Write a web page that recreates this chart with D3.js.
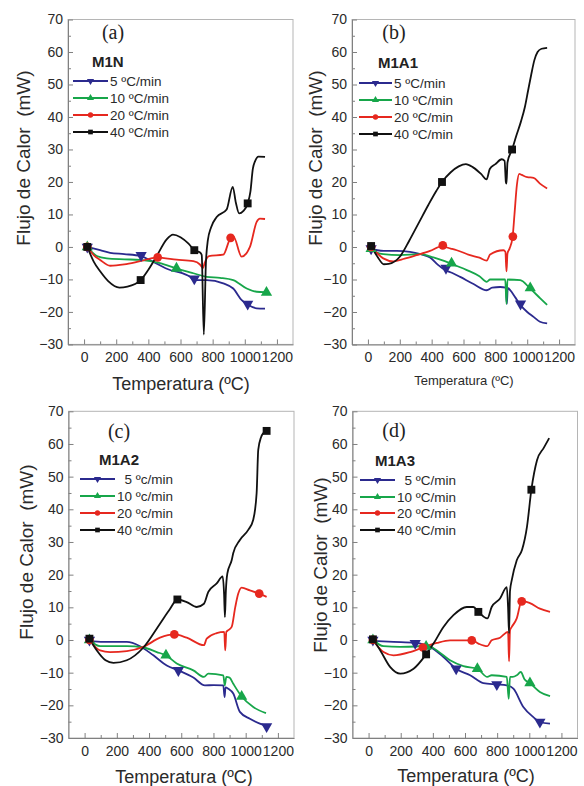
<!DOCTYPE html>
<html>
<head>
<meta charset="utf-8">
<title>Flujo de Calor vs Temperatura</title>
<style>
  body { margin: 0; background: #fff; }
  svg text { font-family: "Liberation Sans", Arial, sans-serif; white-space: pre; }
</style>
</head>
<body>
<div id="chart"></div>
<script src="https://cdn.jsdelivr.net/npm/d3@7"></script>
<script>
// ---- chart data ----
const panelLetters = ["(a)", "(b)", "(c)", "(d)"];
const sampleNames = ["M1N", "M1A1", "M1A2", "M1A3"];
const legendA = ["5 ºC/min", "10 ºC/min", "20 ºC/min", "40 ºC/min"];
const legendB = ["5 ºC/min", "10 ºC/min", "20 ºC/min", "40 ºC/min"];
const legendC = ["  5 ºc/min", "10 ºc/min", "20 ºc/min", "40 ºc/min"];
const legendD = ["  5 ºC/min", "10 ºC/min", "20 ºC/min", "40 ºC/min"];
const xTicks = [0, 200, 400, 600, 800, 1000, 1200];
const xMinor = [100, 300, 500, 700, 900, 1100];
const yTicks = [-30, -20, -10, 0, 10, 20, 30, 40, 50, 60, 70];
const yMinor = [-25, -15, -5, 5, 15, 25, 35, 45, 55, 65];

// (a) M1N
const a5 = [[20,0],[100,-1],[162,-1.8],[250,-2.2],[352,-2.8],[431,-4.6],[535,-7.1],[576,-7.6],[659,-9.2],[686,-10.2],[763,-10.2],[866,-11.2],[928,-12.8],[981,-16.4],[1022,-17.9],[1074,-18.9],[1126,-19]];
const a10 = [[20,0],[79,-2.8],[141,-3.5],[250,-3.8],[348,-4],[473,-5],[572,-6.6],[680,-8.1],[763,-9.2],[846,-9.5],[928,-10.2],[1012,-12.8],[1074,-13.8],[1126,-13.9]];
const a20 = [[20,0],[60,-2.5],[100,-4],[162,-5.8],[250,-5.4],[348,-4.4],[452,-3.3],[576,-3.9],[680,-4.4],[721,-5.4],[740,-6.5],[750,-5],[777,-2.8],[866,-2.4],[912,2.8],[930,3.2],[980,-3],[1032,0],[1074,7.7],[1094,8.7],[1126,8.6]];
const a40 = [[20,0],[60,-4.5],[100,-7.5],[150,-10.5],[220,-12.5],[270,-12.2],[352,-10.2],[400,-7],[452,-2.8],[514,2.3],[553,3.8],[600,3],[650,1],[686,-1],[722,-1.7],[732,-2.5],[745,-27],[758,-5],[770,2],[790,6],[825,9.2],[887,11.5],[925,18.5],[945,13.5],[965,10.3],[990,11],[1018,13.4],[1035,17],[1050,24],[1065,26.5],[1085,27.8],[1126,27.7]];
const a5Marks = [[20,0],[355,-2.6],[686,-9.8],[1018,-17.6]];
const a10Marks = [[20,0],[575,-6.6],[1135,-14]];
const a20Marks = [[20,0],[458,-3.2],[912,2.8]];
const a40Marks = [[20,0],[352,-10.2],[686,-1],[1018,13.4]];

// (b) M1A1
const b5 = [[20,-0.5],[60,-1],[100,-1.2],[180,-1.2],[264,-1.5],[330,-2.2],[390,-3.2],[440,-5.5],[484,-7.1],[530,-8],[579,-9.2],[663,-11.4],[746,-13.3],[780,-12.5],[830,-12.3],[866,-12.5],[872,-17.5],[878,-12.6],[893,-13.3],[925,-15.5],[958,-17.9],[1000,-20],[1040,-21.5],[1080,-23],[1125,-23.5]];
const b10 = [[20,-0.5],[60,-1.8],[96,-2.2],[201,-2.5],[327,-2.2],[411,-3.2],[516,-5],[621,-7.1],[700,-9],[746,-10.7],[767,-10],[862,-10],[870,-17.5],[876,-10],[956,-10.2],[1019,-12.8],[1082,-15.8],[1125,-17.8]];
const b20 = [[20,0],[60,-2],[96,-3.5],[159,-4.4],[230,-3.6],[306,-2.5],[390,-1.2],[463,0.2],[520,-0.5],[558,-1],[641,-2.5],[700,-3.3],[746,-4.2],[767,-2.3],[851,-1],[863,-1.5],[870,-7.5],[876,-2],[889,-0.5],[908,3],[920,10],[935,19],[950,22.5],[965,22.2],[1000,21.5],[1040,21.3],[1080,19.5],[1125,18]];
const b40 = [[20,0.3],[60,-3],[100,-5.3],[130,-5.2],[200,-3],[260,2],[320,7.5],[380,13],[430,17.3],[465,20],[520,23],[570,24.8],[615,25.5],[660,24.5],[710,22.5],[745,20.8],[765,24],[800,25.5],[840,27],[858,26.5],[866,20],[870,19.5],[876,26],[905,30],[930,34],[960,38.5],[985,43],[1005,48],[1025,53],[1045,57.5],[1065,60],[1090,61],[1125,61.3]];
const b5Marks = [[20,-0.5],[490,-6.5],[958,-17.5]];
const b10Marks = [[20,-0.5],[525,-5],[1019,-12.6]];
const b20Marks = [[20,0],[470,0.5],[910,3.2]];
const b40Marks = [[20,0.3],[465,20],[905,30]];

// (c) M1A2
const c5 = [[30,-0.3],[117,-0.6],[262,-0.6],[344,-1.9],[427,-4.7],[510,-7.8],[582,-9.3],[675,-11.5],[747,-13.9],[800,-13.8],[861,-13.9],[869,-17.5],[875,-14.5],[892,-14.9],[923,-16.4],[964,-22],[1026,-24.1],[1088,-25.6],[1130,-26.3]];
const c10 = [[30,0],[96,-1.9],[262,-1.9],[365,-2.3],[448,-3.7],[505,-4.7],[572,-7.2],[675,-9.3],[741,-11.3],[768,-10.3],[861,-10.8],[870,-13.9],[880,-11.3],[900,-11.5],[923,-13.4],[975,-17.3],[1047,-20.5],[1126,-22.4]];
const c20 = [[30,0],[96,-3.2],[158,-3.7],[262,-3.4],[365,-2.1],[468,0.7],[557,1.7],[634,0.7],[741,-1.6],[758,0.4],[820,2.1],[867,2.5],[873,-3.2],[880,2.5],[892,3],[913,4],[935,10],[954,14.2],[975,16],[1026,15.2],[1084,14.2],[1130,13.2]];
const c40 = [[30,0.4],[76,-3.2],[130,-6.2],[179,-7],[262,-6.2],[365,-2.3],[468,5],[530,9.5],[576,12.4],[634,11.6],[696,10.1],[741,11.1],[768,14.7],[820,17.3],[857,19.5],[866,14],[871,7],[877,15],[886,20.3],[913,24.4],[923,26.6],[964,30.6],[1016,33.7],[1047,36.8],[1068,45],[1078,58.2],[1095,62],[1109,63.3],[1130,64]];
const c5Marks = [[30,0],[582,-9.3],[1130,-26.5]];
const c10Marks = [[30,0],[505,-4.7],[975,-17.3]];
const c20Marks = [[30,0],[557,1.7],[1084,14.2]];
const c40Marks = [[30,0.4],[576,12.4],[1130,64]];

// (d) M1A3
const d5 = [[27,-0.3],[155,-0.6],[290,-0.9],[383,-2.1],[466,-5.2],[545,-8.8],[632,-10.8],[714,-13.2],[798,-13.6],[860,-13.9],[901,-14.9],[963,-20.5],[1025,-23.6],[1066,-25.1],[1129,-25.6]];
const d10 = [[27,0],[93,-1.9],[197,-2.1],[300,-2],[358,-1.5],[425,-3.2],[507,-6.2],[590,-8],[677,-8.8],[739,-11.3],[766,-10.8],[860,-11.3],[872,-18],[880,-11.3],[897,-11.3],[922,-10.8],[947,-9.8],[970,-12],[1004,-13.2],[1066,-15.9],[1129,-17.2]];
const d20 = [[27,0],[93,-3.7],[155,-4.7],[259,-3.7],[338,-2.3],[425,-0.9],[507,-0.1],[642,-0.1],[683,-1.1],[739,-1.9],[766,-0.1],[818,0.7],[868,2.5],[874,-6.5],[880,3],[891,4],[922,6.6],[953,12],[1004,11.3],[1066,9.6],[1129,8.6]];
const d40 = [[27,0.2],[73,-3.2],[135,-8.3],[197,-10.3],[280,-8.8],[358,-4.4],[404,-1.1],[466,4],[528,7.6],[611,10.1],[652,10.1],[683,8.6],[739,6.6],[766,10.1],[818,12.7],[860,16.2],[868,10],[874,2],[880,15],[891,18.3],[922,24.4],[955,27.6],[986,34.8],[1013,46],[1048,55],[1090,58.8],[1124,61.8]];
const d5Marks = [[27,0],[290,-1],[545,-8.8],[798,-13.6],[1066,-25.1]];
const d10Marks = [[27,0],[358,-2],[677,-8.8],[1004,-13.2]];
const d20Marks = [[27,0],[338,-2.3],[642,-0.1],[953,11.8]];
const d40Marks = [[27,0.2],[358,-4.4],[683,8.6],[1013,46]];

// ---- styling ----
const colors = ["#2b2a8e", "#17a64a", "#e6281f", "#111111"];
const symbols = ["down", "up", "circle", "square"];

// layout of the four panels (pixels)
const layouts = [
  {left: 68, right: 293, top: 19.5, bottom: 344.4, letter: [113, 39], name: [92, 67], legX: [73, 108, 110], legY: [81, 98, 115, 132],
   yTitle: [30, 158], xTitle: [181, 390, 18]},
  {left: 352, right: 575, top: 19.5, bottom: 344.5, letter: [394, 39], name: [378, 68], legX: [359, 392, 394], legY: [83, 100, 117, 134],
   yTitle: [322, 158], xTitle: [464, 385, 13]},
  {left: 68.5, right: 294, top: 411.3, bottom: 738, letter: [119, 438], name: [99, 465], legX: [80, 115, 117], legY: [479, 496, 513, 530],
   yTitle: [33, 552], xTitle: [184, 783, 18]},
  {left: 352.5, right: 577.5, top: 411.3, bottom: 738, letter: [394, 437], name: [375, 466], legX: [360, 395, 397], legY: [480, 497, 513, 530],
   yTitle: [327, 565], xTitle: [466, 782, 18]}
];

const panels = [
  {series: [a5, a10, a20, a40], marks: [a5Marks, a10Marks, a20Marks, a40Marks], legend: legendA},
  {series: [b5, b10, b20, b40], marks: [b5Marks, b10Marks, b20Marks, b40Marks], legend: legendB},
  {series: [c5, c10, c20, c40], marks: [c5Marks, c10Marks, c20Marks, c40Marks], legend: legendC},
  {series: [d5, d10, d20, d40], marks: [d5Marks, d10Marks, d20Marks, d40Marks], legend: legendD}
];

const svg = d3.select("#chart").append("svg")
  .attr("width", 584)
  .attr("height", 786);

function symbolPath(kind, size) {
  const type = kind === "circle" ? d3.symbolCircle : kind === "square" ? d3.symbolSquare : d3.symbolTriangle;
  return d3.symbol().type(type).size(size)();
}

function drawMarker(g, kind, cx, cy, size, color) {
  g.append("path")
    .attr("d", symbolPath(kind, size))
    .attr("transform", `translate(${cx},${cy})` + (kind === "down" ? " rotate(180)" : ""))
    .attr("fill", color);
}

panels.forEach((p, i) => {
  const L = layouts[i];
  const g = svg.append("g");

  const x = d3.scaleLinear().domain([-100, 1300]).range([L.left, L.right]);
  const y = d3.scaleLinear().domain([-30, 70]).range([L.bottom, L.top]);

  // frame (top / right)
  g.append("rect")
    .attr("x", L.left).attr("y", L.top)
    .attr("width", L.right - L.left).attr("height", L.bottom - L.top)
    .attr("fill", "none").attr("stroke", "#b5b5b5").attr("stroke-width", 1);

  // y axis with inward ticks
  g.append("g")
    .attr("transform", `translate(${L.left},0)`)
    .call(d3.axisLeft(y).tickValues(yTicks).tickSizeInner(-5).tickSizeOuter(0).tickPadding(5).tickFormat(d3.format("d")));
  g.append("g")
    .attr("transform", `translate(${L.left},0)`)
    .call(d3.axisLeft(y).tickValues(yMinor).tickSizeInner(-3).tickSizeOuter(0).tickFormat(""))
    .select(".domain").remove();

  // x axis with inward ticks
  g.append("g")
    .attr("transform", `translate(0,${L.bottom})`)
    .call(d3.axisBottom(x).tickValues(xTicks).tickSizeInner(-5).tickSizeOuter(0).tickPadding(8).tickFormat(d3.format("d")));
  g.append("g")
    .attr("transform", `translate(0,${L.bottom})`)
    .call(d3.axisBottom(x).tickValues(xMinor).tickSizeInner(-3).tickSizeOuter(0).tickFormat(""))
    .select(".domain").remove();

  g.selectAll(".domain").attr("stroke", "#808080");
  g.selectAll(".tick line").attr("stroke", "#808080");
  g.selectAll(".tick text")
    .attr("fill", "#2a2a2a")
    .style("font-size", "14px")
    .style("font-family", "'Liberation Sans', Arial, sans-serif");

  // curves
  const line = d3.line()
    .x(d => x(d[0]))
    .y(d => y(d[1]))
    .curve(d3.curveMonotoneX);

  p.series.forEach((s, k) => {
    g.append("path")
      .datum(s)
      .attr("d", line)
      .attr("fill", "none")
      .attr("stroke", colors[k])
      .attr("stroke-width", 1.8)
      .attr("stroke-linejoin", "round");
  });

  p.marks.forEach((m, k) => {
    m.forEach(d => drawMarker(g, symbols[k], x(d[0]), y(d[1]), k === 2 ? 60 : k === 3 ? 62 : 55, colors[k]));
  });

  // panel letter
  g.append("text")
    .attr("x", L.letter[0]).attr("y", L.letter[1])
    .attr("text-anchor", "middle")
    .style("font-family", "'Liberation Serif', 'Times New Roman', serif")
    .style("font-size", "20px")
    .attr("fill", "#222")
    .text(panelLetters[i]);

  // sample name
  g.append("text")
    .attr("x", L.name[0]).attr("y", L.name[1])
    .style("font-size", "15px")
    .style("font-weight", "bold")
    .attr("fill", "#222")
    .text(sampleNames[i]);

  // legend
  p.legend.forEach((lab, k) => {
    const ly = L.legY[k];
    g.append("line")
      .attr("x1", L.legX[0]).attr("x2", L.legX[1])
      .attr("y1", ly).attr("y2", ly)
      .attr("stroke", colors[k]).attr("stroke-width", 1.8);
    drawMarker(g, symbols[k], (L.legX[0] + L.legX[1]) / 2, ly, 22, colors[k]);
    g.append("text")
      .attr("x", L.legX[2]).attr("y", ly)
      .attr("dy", "0.35em")
      .style("font-size", "13.5px")
      .attr("fill", "#2a2a2a")
      .text(lab);
  });

  // axis titles
  g.append("text")
    .attr("transform", `translate(${L.yTitle[0]},${L.yTitle[1]}) rotate(-90)`)
    .attr("text-anchor", "middle")
    .style("font-size", "19px")
    .attr("fill", "#2a2a2a")
    .text("Flujo de Calor  (mW)");

  g.append("text")
    .attr("x", L.xTitle[0]).attr("y", L.xTitle[1])
    .attr("text-anchor", "middle")
    .style("font-size", L.xTitle[2] + "px")
    .attr("fill", "#2a2a2a")
    .text("Temperatura (ºC)");
});
</script>
</body>
</html>
